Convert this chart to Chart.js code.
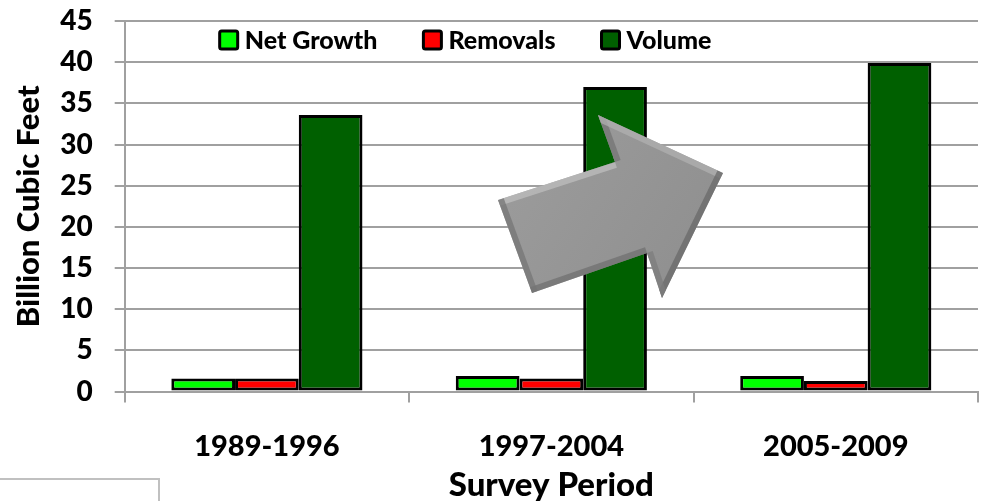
<!DOCTYPE html>
<html><head><meta charset="utf-8">
<script src="https://cdn.jsdelivr.net/npm/chart.js@4/dist/chart.umd.min.js"></script>
<style>
html,body{margin:0;padding:0;background:#fff;}
#wrap{position:relative;width:981px;height:501px;overflow:hidden;}
#box{position:absolute;left:-2px;top:478px;width:158px;height:40px;border:2px solid #c0c0c0;}
</style></head><body>
<div id="wrap"><canvas id="canvas" width="981" height="501"></canvas><div id="box"></div></div>
<script>
const periods=["1989-1996","1997-2004","2005-2009"];
const netGrowth=[1.6,1.9,1.9];
const removals=[1.6,1.6,1.3];
const volume=[33.6,37.0,39.9];
const seriesNames=["Net Growth","Removals","Volume"];
const seriesColors=["#00ff00","#ff0000","#006000"];
const yMax=45;
const yStep=5;

const FONT="Lato";
const W=900;
// legend sits inside the plot, between the 45 and 40 gridlines
const topLegend={id:"topLegend",afterDraw(chart){
    const ctx=chart.ctx;
    const a=chart.chartArea;
    ctx.save();
    ctx.font=W+" 25px "+FONT;
    ctx.textBaseline="middle";
    let x=a.left+95;
    const y=a.top+19;
    chart.data.datasets.forEach(ds=>{
        ctx.fillStyle=ds.backgroundColor;
        ctx.strokeStyle="#000";
        ctx.lineWidth=3;
        ctx.beginPath();
        ctx.roundRect(x,y-9,18,18,2);
        ctx.fill();
        ctx.stroke();
        ctx.fillStyle="#000";
        ctx.fillText(ds.label,x+25,y+1);
        x+=25+ctx.measureText(ds.label).width+46;
    });
    ctx.restore();
}};
// the grey 3d arrow pasted over the middle group
const arrow={id:"arrow",afterDatasetsDraw(chart){
    const ctx=chart.ctx;
    const pts=[[498,200],[615,162],[598,115],[723,173],[662,298],[647,253],[532,293]];
    ctx.save();
    ctx.beginPath();
    pts.forEach((p,i)=>i?ctx.lineTo(p[0],p[1]):ctx.moveTo(p[0],p[1]));
    ctx.closePath();
    const g=ctx.createLinearGradient(500,150,720,290);
    g.addColorStop(0,"#9c9c9c");
    g.addColorStop(1,"#8e8e8e");
    ctx.fillStyle=g;
    ctx.fill();
    ctx.clip();
    const shade=["#bdbdbd","#747474","#b0b0b0","#6a6a6a","#7c7c7c","#707070","#757575"];
    ctx.lineWidth=12;
    ctx.globalAlpha=0.75;
    for(let i=0;i<pts.length;i++){
        const p=pts[i],q=pts[(i+1)%pts.length];
        ctx.strokeStyle=shade[i];
        ctx.beginPath();
        ctx.moveTo(p[0],p[1]);
        ctx.lineTo(q[0],q[1]);
        ctx.stroke();
    }
    ctx.restore();
}};

new Chart(document.getElementById("canvas"),{
    type:"bar",
    data:{
        labels:periods,
        datasets:[netGrowth,removals,volume].map((vals,i)=>({
            label:seriesNames[i],
            data:vals,
            backgroundColor:seriesColors[i],
            borderColor:"#000",
            borderWidth:3,
            borderSkipped:false
        }))
    },
    options:{
        responsive:false,
        animation:false,
        layout:{padding:{top:0,right:3,left:10,bottom:0}},
        datasets:{bar:{barPercentage:1,categoryPercentage:0.672}},
        plugins:{legend:{display:false},tooltip:{enabled:false}},
        scales:{
            x:{
                grid:{drawOnChartArea:false,offset:true,tickLength:11,color:"#a0a0a0",lineWidth:2},
                border:{color:"#a0a0a0",width:2},
                ticks:{font:{family:FONT,size:29,weight:W},color:"#000",padding:27},
                title:{display:true,text:"Survey Period",font:{family:FONT,size:33,weight:W},color:"#000",padding:{top:-26,bottom:-4}}
            },
            y:{
                min:0,max:yMax,
                afterFit:s=>{s.paddingTop=21;},
                grid:{color:"#a0a0a0",lineWidth:2,tickLength:10},
                border:{color:"#a0a0a0",width:2},
                ticks:{stepSize:yStep,autoSkip:false,font:{family:FONT,size:28,weight:W},color:"#000",padding:22},
                title:{display:true,text:"Billion Cubic Feet",font:{family:FONT,size:31,weight:W},color:"#000",padding:{top:0,bottom:-9}}
            }
        }
    },
    plugins:[topLegend,arrow]
});
</script>
</body></html>
